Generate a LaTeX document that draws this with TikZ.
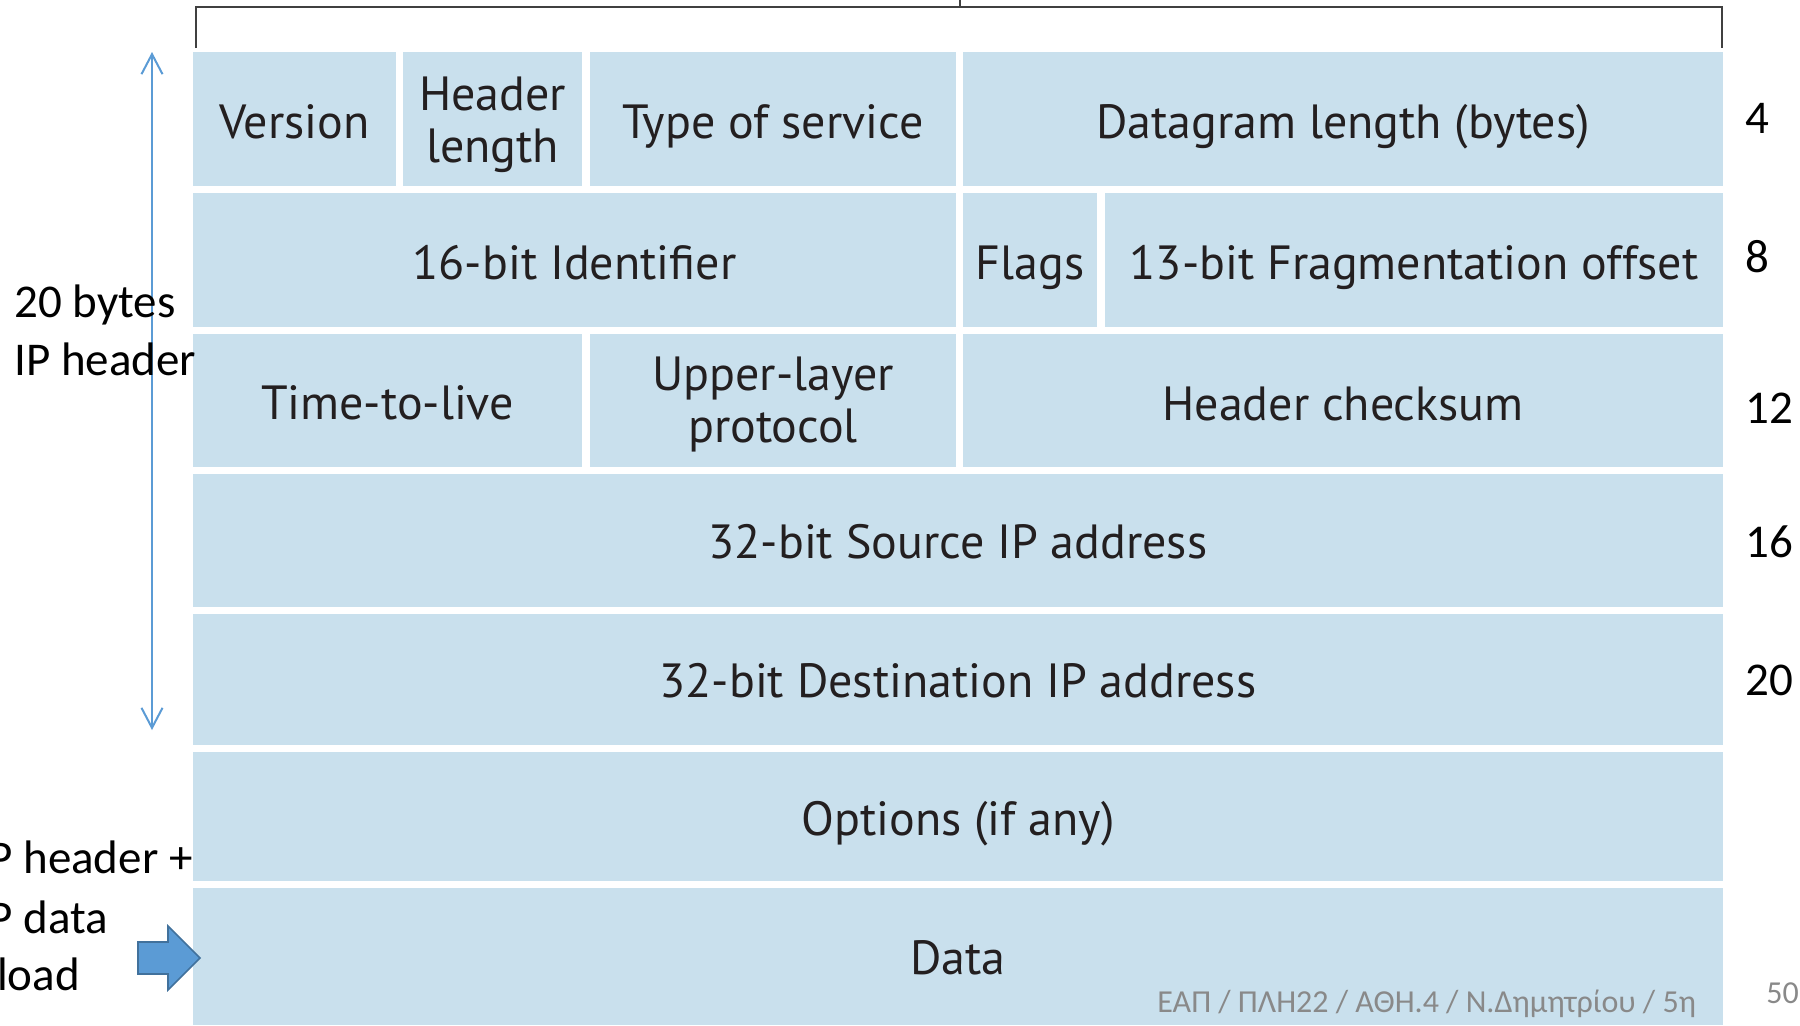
\documentclass[tikz,border=0pt]{standalone}
\usepackage{fontspec}
\setmainfont{Carlito}
\newfontfamily\fieldfont{PT Sans}
\usetikzlibrary{fit,arrows.meta}
\definecolor{cellblue}{RGB}{201,224,237}
\definecolor{fieldink}{RGB}{35,31,32}
\definecolor{officeblue}{RGB}{91,155,213}
\definecolor{officeedge}{RGB}{65,113,156}
\definecolor{footgray}{RGB}{137,137,137}
\definecolor{bracketgray}{RGB}{64,64,64}
\begin{document}
\begin{tikzpicture}[x=0.5pt,y=-0.5pt,
  cell/.style={fill=cellblue, draw=none, inner sep=0pt},
  celltext/.style={inner sep=0pt, align=center, text=fieldink,
    font=\fieldfont\fontsize{24}{26}\selectfont},
  oneline/.style={celltext, text height=17pt, text depth=0pt},
  sidelabel/.style={anchor=base west, inner sep=0pt,
    font=\fontsize{23.5}{29}\selectfont},
  offset/.style={anchor=base west, inner sep=0pt,
    font=\fontsize{23.5}{29}\selectfont},
  footer/.style={anchor=base west, inner sep=0pt, text=footgray,
    font=\fontsize{16}{18}\selectfont}]
\useasboundingbox (0,0) rectangle (1800,1025);
\clip (0,0) rectangle (1800,1025);

% 32-bit word bracket
\draw[bracketgray, line width=1pt] (196,48) -- (196,7) -- (1722,7) -- (1722,48);
\draw[bracketgray, line width=1pt] (960,7) -- (960,-2);

% header fields
\node[cell, fit={(193,52) (396,186)}] (version) {};
\node[cell, fit={(403,52) (582,186)}] (hlen) {};
\node[cell, fit={(590,52) (956,186)}] (tos) {};
\node[cell, fit={(963,52) (1723,186)}] (dlen) {};

\node[cell, fit={(193,193) (956,327)}] (ident) {};
\node[cell, fit={(963,193) (1097,327)}] (flags) {};
\node[cell, fit={(1105,193) (1723,327)}] (frag) {};

\node[cell, fit={(193,334) (582,467)}] (ttl) {};
\node[cell, fit={(590,334) (956,467)}] (proto) {};
\node[cell, fit={(963,334) (1723,467)}] (csum) {};

\node[cell, fit={(193,474) (1723,607)}] (src) {};
\node[cell, fit={(193,614) (1723,745)}] (dst) {};
\node[cell, fit={(193,752) (1723,881)}] (opts) {};
\node[cell, fit={(193,888) (1723,1025)}] (data) {};

% field names
\node[oneline]  (versionT) at ([yshift=-1pt]version.center) {Version};
\node[celltext] (hlenT)    at ([yshift=-3pt]hlen.center)    {Header\\length};
\node[oneline]  (tosT)     at ([yshift=-1pt]tos.center)     {Type of service};
\node[oneline]  (dlenT)    at ([yshift=-1pt]dlen.center)    {Datagram length (bytes)};
\node[oneline]  (identT)   at ([yshift=-1pt]ident.center)   {16-bit Identifier};
\node[oneline]  (flagsT)   at ([yshift=-1pt]flags.center)   {Flags};
\node[oneline]  (fragT)    at ([yshift=-1pt]frag.center)    {13-bit Fragmentation offset};
\node[oneline]  (ttlT)     at ([yshift=-1pt]ttl.center)     {Time-to-live};
\node[celltext] (protoT)   at ([yshift=-2pt]proto.center)   {Upper-layer\\protocol};
\node[oneline]  (csumT)    at ([yshift=-1.5pt]csum.center)  {Header checksum};
\node[oneline]  (srcT)     at ([yshift=-0.5pt]src.center)   {32-bit Source IP address};
\node[oneline]  (dstT)     at ([yshift=-0.5pt]dst.center)   {32-bit Destination IP address};
\node[oneline]  (optsT)    at ([yshift=-1pt]opts.center)    {Options (if any)};
\node[oneline]  (dataT)    at ([yshift=-0.5pt]data.center)  {Data};

% byte offsets
\node[offset] (off4)  at (1745,133) {4};
\node[offset] (off8)  at (1745,272) {8};
\node[offset] (off12) at (1745,423) {12};
\node[offset] (off16) at (1745,557) {16};
\node[offset] (off20) at (1745,695) {20};

% header extent
\coordinate (hdrtop) at (152,52);
\coordinate (hdrbot) at (152,730);
\draw[officeblue, line width=1pt,
  {Straight Barb[length=10pt,width=10.5pt]}-{Straight Barb[length=10pt,width=10.5pt]}]
  (hdrtop) -- (hdrbot);
\node[sidelabel] (hdr1) at (14,317) {20 bytes};
\node[sidelabel] (hdr2) at (14,375) {IP header};

% payload label and block arrow
\node[sidelabel] (pay1) at (-71,873) {UDP header +};
\node[sidelabel] (pay2) at (-71,933) {UDP data};
\node[sidelabel] (pay3) at (-71,990) {payload};
\draw[fill=officeblue, draw=officeedge, line width=0.8pt]
  (138,942) -- (168,942) -- (168,926) -- (200,958) -- (168,990)
  -- (168,974) -- (138,974) -- cycle;

% slide footer
\node[footer] (foot) at (1157,1012) {ΕΑΠ / ΠΛΗ22 / ΑΘΗ.4 / Ν.Δημητρίου / 5η};
\node[footer] (page) at (1766,1003) {50};
\end{tikzpicture}
\end{document}
